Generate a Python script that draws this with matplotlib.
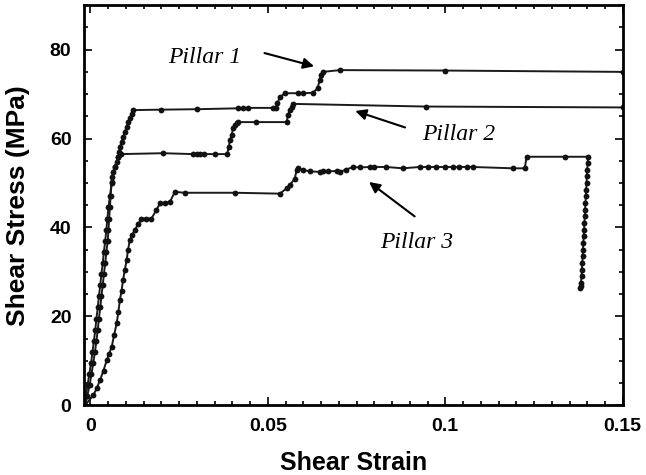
import matplotlib
matplotlib.use("Agg")
import matplotlib.pyplot as plt
from matplotlib.ticker import MultipleLocator

# Pillar 1
p1_strain = [-0.0015, -0.0009, -0.0002, 0.0003, 0.0008, 0.0013, 0.0017, 0.0021, 0.0024, 0.0028,
             0.0031, 0.0035, 0.0038, 0.0042, 0.0045, 0.0049, 0.0051, 0.0053, 0.0055, 0.0057,
             0.0060, 0.0062, 0.0064, 0.0069, 0.0074, 0.0078, 0.0081, 0.0083, 0.0088, 0.0092,
             0.0097, 0.0102, 0.0107, 0.0111, 0.0116, 0.0121,
             0.020, 0.030, 0.0416, 0.0430, 0.0444, 0.0514, 0.0522, 0.0527, 0.0534, 0.0548,
             0.0585, 0.0600, 0.0627, 0.0640, 0.0646, 0.0650, 0.0655, 0.0703, 0.1000, 0.1500]
p1_stress = [0, 2, 4.5, 7, 9.5, 12, 14.5, 17, 19.5, 22,
             24.5, 27, 29.5, 32, 34.5, 37, 39.5, 42, 44.5, 47,
             50.3, 51.4, 52.5, 53.6, 54.8, 55.9, 57.0, 58.1, 59.2, 60.4,
             61.5, 62.6, 63.7, 64.6, 65.5, 66.4,
             66.5, 66.6, 66.8, 66.8, 66.9, 66.9, 66.9, 68.0, 69.3, 70.2,
             70.2, 70.2, 70.3, 71.3, 73.1, 74.2, 75.0, 75.4, 75.3, 75.0]

# Pillar 2
p2_strain = [-0.0018, -0.0013, -0.0008, -0.0003, 0.0002, 0.0006, 0.0010, 0.0014, 0.0017, 0.0021,
             0.0024, 0.0028, 0.0031, 0.0035, 0.0038, 0.0042, 0.0045, 0.0048, 0.0051, 0.0055,
             0.0060, 0.0068, 0.0078, 0.0085,
             0.0205, 0.0290, 0.0300, 0.0310, 0.0320, 0.0350, 0.0385, 0.0390, 0.0393, 0.0398,
             0.0402, 0.0407, 0.0412, 0.0416, 0.0468, 0.0553, 0.0557, 0.0562, 0.0567, 0.0571,
             0.0945, 0.1500]
p2_stress = [0, 2, 4.5, 7, 9.5, 12, 14.5, 17, 19.5, 22,
             24.5, 27, 29.5, 32, 34.5, 37, 39.5, 42, 44.5, 47,
             50.0, 53.5, 55.8, 56.5,
             56.7, 56.5, 56.5, 56.5, 56.5, 56.5, 56.5, 58.0, 59.6, 60.8,
             62.3, 63.0, 63.4, 63.7, 63.7, 63.7, 65.3, 66.4, 67.2, 67.8,
             67.2, 67.0]

# Pillar 3
p3_strain = [-0.0015, 0.0008, 0.0018, 0.0027, 0.0037, 0.0046, 0.0053, 0.0060, 0.0067, 0.0074,
             0.0079, 0.0083, 0.0088, 0.0092, 0.0097, 0.0102, 0.0106, 0.0111, 0.0118, 0.0125,
             0.0135, 0.0144, 0.0158, 0.0172, 0.0186, 0.0196, 0.0210, 0.0224, 0.0238, 0.0266,
             0.0407, 0.0534, 0.0553, 0.0562, 0.0576, 0.0581, 0.0585, 0.0600, 0.0620, 0.0646,
             0.0656, 0.0670, 0.0694, 0.0703, 0.0720, 0.0740, 0.0760, 0.0787, 0.0800, 0.0834,
             0.0880, 0.0928, 0.0950, 0.0975, 0.1000, 0.1022, 0.1040, 0.1060, 0.1078, 0.1191,
             0.1224, 0.1229, 0.1337, 0.1402,
             0.1401, 0.1400, 0.1399, 0.1398, 0.1397, 0.1396, 0.1395, 0.1394, 0.1393, 0.1392,
             0.1391, 0.1390, 0.1389, 0.1388, 0.1387, 0.1386, 0.1385, 0.1384, 0.1382, 0.1381,
             0.1379]
p3_stress = [0, 2.2, 3.8, 5.6, 7.8, 10.1, 11.6, 13.1, 15.8, 18.4,
             21.0, 23.6, 25.8, 28.1, 30.4, 32.6, 34.9, 37.1, 38.3, 39.4,
             40.8, 42.0, 42.0, 42.0, 43.9, 45.4, 45.6, 45.7, 48.0, 47.8,
             47.8, 47.6, 48.8, 49.5, 51.0, 52.9, 53.3, 52.9, 52.6, 52.5,
             52.7, 52.6, 52.7, 52.5, 53.0, 53.6, 53.5, 53.6, 53.6, 53.6,
             53.3, 53.6, 53.6, 53.6, 53.6, 53.6, 53.6, 53.6, 53.6, 53.3,
             53.3, 55.9, 55.9, 55.9,
             54.5, 53.0, 51.5, 50.0, 48.5, 47.0, 45.5, 44.0, 42.5, 41.0,
             39.5, 38.0, 36.5, 35.0, 33.5, 32.0, 30.5, 29.0, 27.5, 26.8,
             26.3]

plt.rcParams['font.family'] = ['Liberation Sans', 'DejaVu Sans']

fig, ax = plt.subplots(figsize=(6.46, 4.75), dpi=100)
fig.subplots_adjust(left=0.130, right=0.964, top=0.989, bottom=0.147)

for xs, ys in [(p1_strain, p1_stress), (p2_strain, p2_stress), (p3_strain, p3_stress)]:
    ax.plot(xs, ys, color='#1a1a1a', lw=1.4, marker='o', ms=4.2,
            markeredgewidth=0, markerfacecolor='#111111')

ax.set_xlim(-0.0018, 0.15)
ax.set_ylim(0, 90)
ax.xaxis.set_minor_locator(MultipleLocator(0.005))
ax.yaxis.set_minor_locator(MultipleLocator(5))
ax.set_xticks([0, 0.05, 0.1, 0.15])
ax.set_xticklabels(['0', '0.05', '0.1', '0.15'])
ax.set_yticks([0, 20, 40, 60, 80])

ax.tick_params(which='both', direction='in', top=True, right=True, width=1.2)
ax.tick_params(which='major', length=6, labelsize=14, pad=9)
ax.tick_params(which='minor', length=3)
for lab in ax.get_xticklabels() + ax.get_yticklabels():
    lab.set_fontweight('bold')
for sp in ax.spines.values():
    sp.set_linewidth(2)

ax.set_xlabel('Shear Strain', fontsize=18, fontweight='bold', labelpad=12)
ax.set_ylabel('Shear Stress (MPa)', fontsize=19, fontweight='bold', labelpad=14)

# labels with arrows
serif = ['Liberation Serif', 'DejaVu Serif']
arrow = dict(arrowstyle='-|>', color='black', lw=1.5, mutation_scale=16)
ax.text(0.0218, 78.3, 'Pillar 1', fontsize=17, style='italic', family=serif, va='center')
ax.annotate('', xy=(0.0638, 76.1), xytext=(0.0483, 79.4), arrowprops=arrow)
ax.text(0.0934, 60.8, 'Pillar 2', fontsize=17, style='italic', family=serif, va='center')
ax.annotate('', xy=(0.0739, 66.4), xytext=(0.0894, 62.3), arrowprops=arrow)
ax.text(0.0815, 36.7, 'Pillar 3', fontsize=17, style='italic', family=serif, va='center')
ax.annotate('', xy=(0.0779, 50.6), xytext=(0.0920, 42.1), arrowprops=arrow)

fig.savefig('out.png', dpi=100)
